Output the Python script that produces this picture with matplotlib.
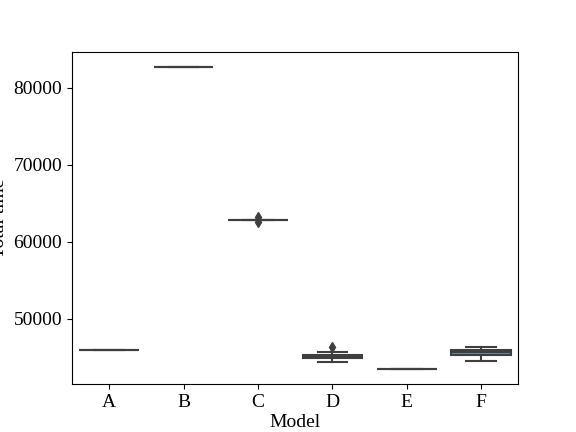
import numpy as np
import matplotlib
matplotlib.use("Agg")
import matplotlib.pyplot as plt

plt.rcParams["font.family"] = ["Liberation Serif", "DejaVu Serif"]
plt.rcParams["font.size"] = 14

models = ["A", "B", "C", "D", "E", "F"]

# run times per model
time_a = [45900, 45900, 45900, 45900, 45900]
time_b = [82700, 82700, 82700, 82700, 82700]
time_c = [62500, 62750, 62780, 62800, 62820, 62850, 63150]
time_d = [44330, 44600, 44840, 44980, 45100, 45220, 45325, 45714, 46360]
time_e = [43400, 43400, 43400, 43400, 43400]
time_f = [44450, 45100, 45325, 45500, 45650, 45800, 45935, 46150, 46360]

box_colors = ["#5874a0", "#c6845c", "#5d9a6c", "#6e7d3e", "#7c72a6", "#6a8ea3"]
line_gray = "#3f3f3f"

fig, ax = plt.subplots(figsize=(5.76, 4.32), dpi=100)

data = [time_a, time_b, time_c, time_d, time_e, time_f]
bp = ax.boxplot(
    data,
    positions=np.arange(len(models)),
    widths=0.8,
    patch_artist=True,
    boxprops=dict(edgecolor=line_gray, linewidth=1.5),
    whiskerprops=dict(color=line_gray, linewidth=1.5),
    capprops=dict(color=line_gray, linewidth=1.5),
    medianprops=dict(color=line_gray, linewidth=1.5),
    flierprops=dict(marker="d", markerfacecolor=line_gray, markeredgecolor=line_gray,
                    markersize=5),
)
for patch, c in zip(bp["boxes"], box_colors):
    patch.set_facecolor(c)
for cap in bp["caps"]:
    xd = cap.get_xdata()
    mid = xd.mean()
    cap.set_xdata([mid - 0.2, mid + 0.2])

ax.set_xticks(np.arange(len(models)))
ax.set_xticklabels(models)
ax.set_xlim(-0.5, len(models) - 0.5)
ax.set_xlabel("Model", labelpad=2)
ax.set_ylabel("Total time")

fig.savefig("out.png")
